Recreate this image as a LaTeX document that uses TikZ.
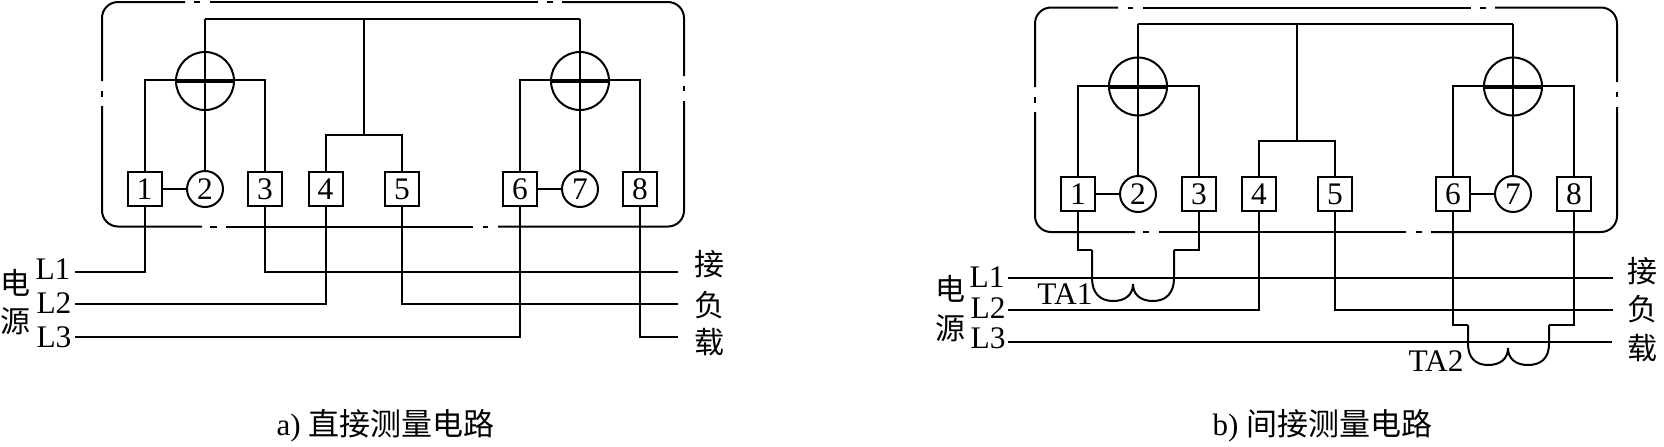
\documentclass[tikz,border=0pt]{standalone}
\usepackage{fontspec}
\setmainfont{Liberation Serif}
\newfontfamily\cjk{Noto Sans CJK SC}
\usetikzlibrary{shapes.geometric}
\tikzset{
	wire/.style={line width=1pt},
	bar/.style={line width=2pt},
	hv/.style={to path={-| (\tikztotarget)}},
	vh/.style={to path={|- (\tikztotarget)}},
	framepart/.style={line width=1pt,rounded corners=8pt},
	terminal/.style={draw,line width=1pt,rectangle,minimum size=17pt,inner sep=0pt,font=\fontsize{15.7}{18}\selectfont},
	voltterm/.style={draw,line width=1pt,circle,minimum size=18pt,inner sep=0pt,font=\fontsize{15.7}{18}\selectfont},
	meter/.style={draw,line width=1pt,circle,minimum size=29pt,inner sep=0pt},
	latin/.style={inner sep=0pt,font=\fontsize{15.7}{18}\selectfont},
	side/.style={inner sep=0pt,font=\cjk\fontsize{15}{17}\selectfont},
	caption/.style={inner sep=0pt,font=\fontsize{15.5}{18}\selectfont}
}
\begin{document}
\begin{tikzpicture}[x=0.5pt,y=-0.5pt]
	\useasboundingbox (0,0) rectangle (1664,446);
	%
	%  PANEL A: FRAME
	%
	\draw[framepart] (185,2) -- (102,2) -- (102,81);
	\draw[framepart] (102,106) -- (102,226.5) -- (202,226.5);
	\draw[framepart] (226,226.5) -- (473,226.5);
	\draw[framepart] (498,226.5) -- (684,226.5) -- (684,101);
	\draw[framepart] (684,76) -- (684,2) -- (562,2);
	\draw[framepart] (538,2) -- (210,2);
	\draw[wire] (194,2) -- (200,2);
	\draw[wire] (547,2) -- (553,2);
	\draw[wire] (102,91) -- (102,97);
	\draw[wire] (684,86) -- (684,91);
	\draw[wire] (210,226.5) -- (217,226.5);
	\draw[wire] (483,226.5) -- (488,226.5);
	%
	%  PANEL A: NODES
	%
	\node[meter] (am1) at (205,81) {};
	\node[meter] (am2) at (580,81) {};
	\node[terminal] (a1) at (144.5,189) {1};
	\node[voltterm] (a2) at (205,189) {2};
	\node[terminal] (a3) at (265,189) {3};
	\node[terminal] (a4) at (325.5,189) {4};
	\node[terminal] (a5) at (402,189) {5};
	\node[terminal] (a6) at (520,189) {6};
	\node[voltterm] (a7) at (580,189) {7};
	\node[terminal] (a8) at (640,189) {8};
	\coordinate (atop1) at (205,18.5);
	\coordinate (atop2) at (580,18.5);
	\coordinate (atap) at (364,18.5);
	\coordinate (afork) at (364,135);
	\coordinate (abar1) at (205,80);
	\coordinate (abar2) at (580,80);
	\coordinate (al1) at (75,272);
	\coordinate (al2) at (75,304);
	\coordinate (al3) at (75,337);
	\coordinate (ar1) at (678,272);
	\coordinate (ar2) at (678,304);
	\coordinate (ar3) at (678,337);
	%
	%  PANEL A: CONNECTORS
	%
	\draw[bar] (am1.west) -- (am1.east);
	\draw[bar] (am2.west) -- (am2.east);
	\path[wire]
	(atop1) edge (atop2)
	(atop1) edge (a2)
	(atop2) edge (a7)
	(atap) edge (afork)
	(afork) edge[hv] (a4)
	(afork) edge[hv] (a5)
	(a1) edge (a2)
	(a6) edge (a7)
	(abar1) edge[hv] (a1)
	(abar1) edge[hv] (a3)
	(abar2) edge[hv] (a6)
	(abar2) edge[hv] (a8)
	(al1) edge[hv] (a1)
	(al2) edge[hv] (a4)
	(al3) edge[hv] (a6)
	(ar1) edge[hv] (a3)
	(ar2) edge[hv] (a5)
	(ar3) edge[hv] (a8);
	%
	%  PANEL A: TEXT
	%
	\node[latin] (atl1) at (53,269) {L1};
	\node[latin] (atl2) at (54,303) {L2};
	\node[latin] (atl3) at (54,337) {L3};
	\node[side] (adian) at (16,283) {电};
	\node[side] (ayuan) at (15,321) {源};
	\node[side] (ajie) at (709,264) {接};
	\node[side] (afu) at (709,305) {负};
	\node[side] (azai) at (709,342) {载};
	\node[caption] (acap) at (385.5,426) {a) {\cjk 直接测量电路}};
	%
	%  PANEL B: FRAME
	%
	\draw[framepart] (1118,7.5) -- (1035,7.5) -- (1035,87);
	\draw[framepart] (1035,112) -- (1035,232) -- (1135,232);
	\draw[framepart] (1159,232) -- (1406,232);
	\draw[framepart] (1431,232) -- (1617,232) -- (1617,107);
	\draw[framepart] (1617,82) -- (1617,7.5) -- (1495,7.5);
	\draw[framepart] (1471,7.5) -- (1143,7.5);
	\draw[wire] (1128,7.5) -- (1133,7.5);
	\draw[wire] (1480,7.5) -- (1486,7.5);
	\draw[wire] (1035,97) -- (1035,103);
	\draw[wire] (1617,92) -- (1617,97);
	\draw[wire] (1143,232) -- (1149,232);
	\draw[wire] (1416,232) -- (1422,232);
	%
	%  PANEL B: NODES
	%
	\node[meter] (bm1) at (1138,86.5) {};
	\node[meter] (bm2) at (1513,86.5) {};
	\node[terminal] (b1) at (1078,194) {1};
	\node[voltterm] (b2) at (1138,194) {2};
	\node[terminal] (b3) at (1199,194) {3};
	\node[terminal] (b4) at (1259,194) {4};
	\node[terminal] (b5) at (1335,194) {5};
	\node[terminal] (b6) at (1453,194) {6};
	\node[voltterm] (b7) at (1513,194) {7};
	\node[terminal] (b8) at (1574,194) {8};
	\coordinate (btop1) at (1138,24);
	\coordinate (btop2) at (1513,24);
	\coordinate (btap) at (1297,24);
	\coordinate (bfork) at (1297,140.5);
	\coordinate (bbar1) at (1138,86);
	\coordinate (bbar2) at (1513,86);
	\coordinate (bl1) at (1008,278);
	\coordinate (bl2) at (1008,310);
	\coordinate (bl3) at (1008,342);
	\coordinate (br1) at (1613,278);
	\coordinate (br2) at (1613,310);
	\coordinate (br3) at (1612,342);
	\coordinate (ca1) at (1092,250);
	\coordinate (ca2) at (1174,250);
	\coordinate (cb1) at (1468,325);
	\coordinate (cb2) at (1549,325);
	%
	%  PANEL B: CONNECTORS
	%
	\draw[bar] (bm1.west) -- (bm1.east);
	\draw[bar] (bm2.west) -- (bm2.east);
	\path[wire]
	(btop1) edge (btop2)
	(btop1) edge (b2)
	(btop2) edge (b7)
	(btap) edge (bfork)
	(bfork) edge[hv] (b4)
	(bfork) edge[hv] (b5)
	(b1) edge (b2)
	(b6) edge (b7)
	(bbar1) edge[hv] (b1)
	(bbar1) edge[hv] (b3)
	(bbar2) edge[hv] (b6)
	(bbar2) edge[hv] (b8)
	(bl1) edge (br1)
	(bl2) edge[hv] (b4)
	(bl3) edge (br3)
	(br2) edge[hv] (b5)
	(b1) edge[vh] (ca1)
	(b3) edge[vh] (ca2)
	(b6) edge[vh] (cb1)
	(b8) edge[vh] (cb2);
	%
	%  CURRENT TRANSFORMERS
	%
	\draw[wire] (ca1) -- (1092,278) .. controls (1092,293) and (1100,301) .. (1113,301)
		.. controls (1125,301) and (1133,295) .. (1133,284)
		.. controls (1133,295) and (1141,301) .. (1153,301)
		.. controls (1166,301) and (1174,293) .. (1174,278) -- (ca2);
	\draw[wire] (cb1) -- (1468,344) .. controls (1468,358) and (1476,365) .. (1488,365)
		.. controls (1500,365) and (1508,359) .. (1508,348)
		.. controls (1508,359) and (1516,365) .. (1528,365)
		.. controls (1541,365) and (1549,358) .. (1549,344) -- (cb2);
	%
	%  PANEL B: TEXT
	%
	\node[latin] (btl1) at (987,277) {L1};
	\node[latin] (btl2) at (988,308) {L2};
	\node[latin] (btl3) at (988,338) {L3};
	\node[latin] (bta1) at (1065,294) {TA1};
	\node[latin] (bta2) at (1436,361) {TA2};
	\node[side] (bdian) at (950,289) {电};
	\node[side] (byuan) at (950,328) {源};
	\node[side] (bjie) at (1642,271) {接};
	\node[side] (bfu) at (1642,309) {负};
	\node[side] (bzai) at (1642,348) {载};
	\node[caption] (bcap) at (1322.5,426) {b) {\cjk 间接测量电路}};
\end{tikzpicture}
\end{document}
